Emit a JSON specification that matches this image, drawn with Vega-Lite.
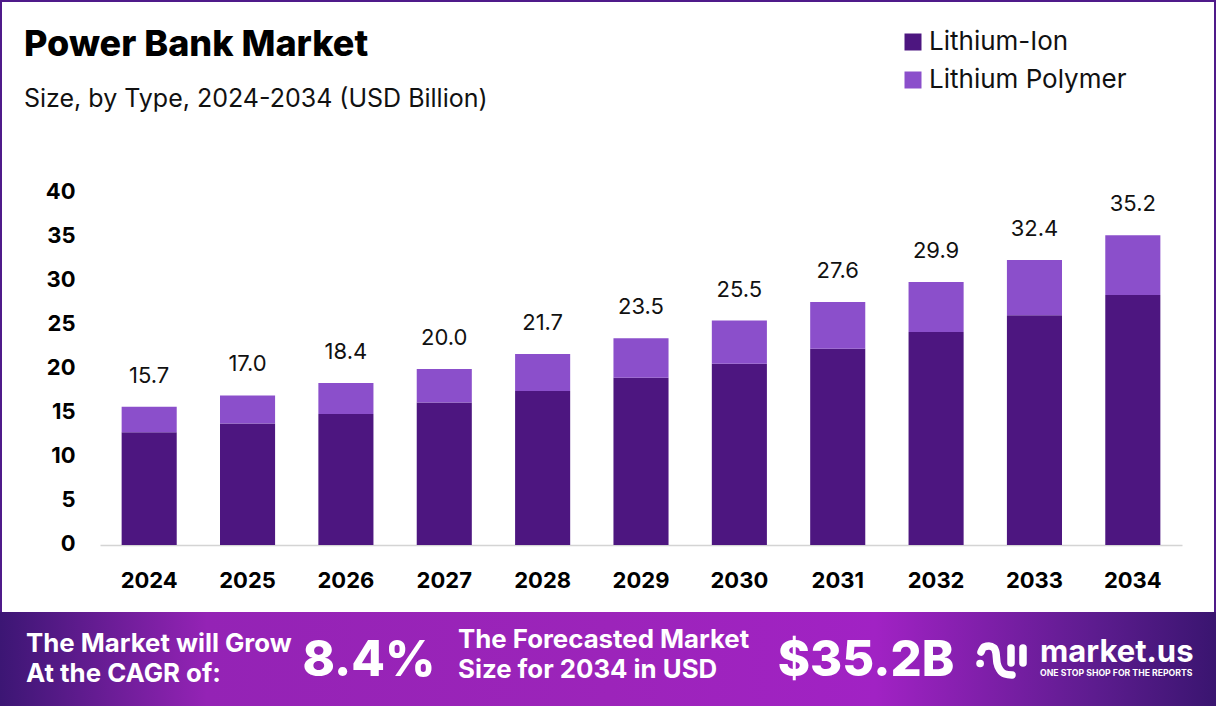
{
  "$schema": "https://vega.github.io/schema/vega-lite/v6.json",
  "autosize": {"type": "none"},
  "padding": {"left": 100, "top": 193, "right": 34, "bottom": 161},
  "width": 1082,
  "height": 352,
  "background": "white",
  "config": {"view": {"stroke": null}, "font": "Inter"},
  "title": {
    "text": "Power Bank Market",
    "subtitle": "Size, by Type, 2024-2034 (USD Billion)",
    "anchor": "start",
    "frame": "group",
    "dx": -76,
    "offset": -113,
    "font": "Inter",
    "fontSize": 36,
    "fontWeight": 800,
    "color": "#000000",
    "subtitleFont": "Inter",
    "subtitleFontSize": 25,
    "subtitleFontWeight": 400,
    "subtitleColor": "#111111",
    "subtitlePadding": 23
  },
  "datasets": {
    "bars": [
      {"year": "2024", "type": "Lithium-Ion", "seg": 1, "value": 12.8},
      {"year": "2024", "type": "Lithium Polymer", "seg": 2, "value": 2.9},
      {"year": "2025", "type": "Lithium-Ion", "seg": 1, "value": 13.8},
      {"year": "2025", "type": "Lithium Polymer", "seg": 2, "value": 3.2},
      {"year": "2026", "type": "Lithium-Ion", "seg": 1, "value": 14.9},
      {"year": "2026", "type": "Lithium Polymer", "seg": 2, "value": 3.5},
      {"year": "2027", "type": "Lithium-Ion", "seg": 1, "value": 16.2},
      {"year": "2027", "type": "Lithium Polymer", "seg": 2, "value": 3.8},
      {"year": "2028", "type": "Lithium-Ion", "seg": 1, "value": 17.5},
      {"year": "2028", "type": "Lithium Polymer", "seg": 2, "value": 4.2},
      {"year": "2029", "type": "Lithium-Ion", "seg": 1, "value": 19.0},
      {"year": "2029", "type": "Lithium Polymer", "seg": 2, "value": 4.5},
      {"year": "2030", "type": "Lithium-Ion", "seg": 1, "value": 20.6},
      {"year": "2030", "type": "Lithium Polymer", "seg": 2, "value": 4.9},
      {"year": "2031", "type": "Lithium-Ion", "seg": 1, "value": 22.3},
      {"year": "2031", "type": "Lithium Polymer", "seg": 2, "value": 5.3},
      {"year": "2032", "type": "Lithium-Ion", "seg": 1, "value": 24.2},
      {"year": "2032", "type": "Lithium Polymer", "seg": 2, "value": 5.7},
      {"year": "2033", "type": "Lithium-Ion", "seg": 1, "value": 26.1},
      {"year": "2033", "type": "Lithium Polymer", "seg": 2, "value": 6.3},
      {"year": "2034", "type": "Lithium-Ion", "seg": 1, "value": 28.4},
      {"year": "2034", "type": "Lithium Polymer", "seg": 2, "value": 6.8}
    ],
    "totals": [
      {"year": "2024", "total": 15.7},
      {"year": "2025", "total": 17.0},
      {"year": "2026", "total": 18.4},
      {"year": "2027", "total": 20.0},
      {"year": "2028", "total": 21.7},
      {"year": "2029", "total": 23.5},
      {"year": "2030", "total": 25.5},
      {"year": "2031", "total": 27.6},
      {"year": "2032", "total": 29.9},
      {"year": "2033", "total": 32.4},
      {"year": "2034", "total": 35.2}
    ],
    "logo": [
      {"part": "dot", "seq": 0, "lx": 5, "ly": 20.5},
      {"part": "dot", "seq": 1, "lx": 5.2, "ly": 20.5},
      {"part": "wave", "seq": 0, "lx": 6, "ly": 9},
      {"part": "wave", "seq": 1, "lx": 9, "ly": 4},
      {"part": "wave", "seq": 2, "lx": 14, "ly": 3},
      {"part": "wave", "seq": 3, "lx": 19, "ly": 5},
      {"part": "wave", "seq": 4, "lx": 21, "ly": 10},
      {"part": "wave", "seq": 5, "lx": 22, "ly": 20},
      {"part": "wave", "seq": 6, "lx": 25, "ly": 27},
      {"part": "wave", "seq": 7, "lx": 30, "ly": 31},
      {"part": "wave", "seq": 8, "lx": 37, "ly": 32},
      {"part": "barA", "seq": 0, "lx": 36, "ly": 5},
      {"part": "barA", "seq": 1, "lx": 36, "ly": 20},
      {"part": "barB", "seq": 0, "lx": 48, "ly": 5},
      {"part": "barB", "seq": 1, "lx": 48, "ly": 20}
    ]
  },
  "resolve": {"scale": {"x": "independent", "y": "independent"}},
  "layer": [
    {
      "data": {"values": [{"x0": 0, "x1": 1, "y0": 0, "y1": 1}]},
      "mark": {"type": "rect", "fill": null, "stroke": "#4f1a8a", "strokeWidth": 2},
      "encoding": {
        "x": {"field": "x0", "type": "quantitative", "axis": null, "scale": {"domain": [0, 1], "range": [-99, 1115], "nice": false, "zero": false}},
        "x2": {"field": "x1"},
        "y": {"field": "y0", "type": "quantitative", "axis": null, "scale": {"domain": [0, 1], "range": [-192, 425], "nice": false, "zero": false}},
        "y2": {"field": "y1"}
      }
    },
    {
      "data": {"values": [{"x0": 0, "x1": 1, "y0": 0, "y1": 1}]},
      "mark": {
        "type": "rect",
        "fill": {
          "x1": 0, "y1": 0, "x2": 1, "y2": 0,
          "gradient": "linear",
          "stops": [
            {"offset": 0, "color": "#3c1674"},
            {"offset": 0.17, "color": "#9423b5"},
            {"offset": 0.5, "color": "#9c24ba"},
            {"offset": 0.72, "color": "#a122c4"},
            {"offset": 0.9, "color": "#5d1c8f"},
            {"offset": 1, "color": "#3a1570"}
          ]
        }
      },
      "encoding": {
        "x": {"field": "x0", "type": "quantitative", "axis": null, "scale": {"domain": [0, 1], "range": [-100, 1116], "nice": false, "zero": false}},
        "x2": {"field": "x1"},
        "y": {"field": "y0", "type": "quantitative", "axis": null, "scale": {"domain": [0, 1], "range": [419, 513], "nice": false, "zero": false}},
        "y2": {"field": "y1"}
      }
    },
    {
      "layer": [
        {
          "data": {"name": "bars"},
          "mark": {"type": "bar"},
          "encoding": {
            "x": {
              "field": "year",
              "type": "nominal",
              "title": null,
              "scale": {"paddingInner": 0.44, "paddingOuter": 0.22},
              "axis": {
                "labelAngle": 0,
                "labelFont": "Inter",
                "labelFontSize": 22,
                "labelFontWeight": 700,
                "labelColor": "#000000",
                "labelPadding": 25,
                "ticks": false,
                "domainColor": "#d4d4d4",
                "domainWidth": 1.5,
                "grid": false
              }
            },
            "y": {
              "field": "value",
              "type": "quantitative",
              "stack": "zero",
              "title": null,
              "scale": {"domain": [0, 40], "nice": false},
              "axis": {
                "values": [0, 5, 10, 15, 20, 25, 30, 35, 40],
                "labelFont": "Inter",
                "labelFontSize": 22,
                "labelFontWeight": 700,
                "labelColor": "#000000",
                "labelPadding": 25,
                "labelOffset": -2,
                "ticks": false,
                "domain": false,
                "grid": false
              }
            },
            "order": {"field": "seg", "type": "ordinal"},
            "color": {
              "field": "type",
              "type": "nominal",
              "scale": {"domain": ["Lithium-Ion", "Lithium Polymer"], "range": ["#4d1680", "#8b4fcb"]},
              "legend": {
                "title": null,
                "orient": "none",
                "legendX": 800,
                "legendY": -164,
                "symbolType": "square",
                "symbolSize": 289,
                "symbolStrokeWidth": 0,
                "labelFont": "Inter",
                "labelFontSize": 26,
                "labelColor": "#111111",
                "labelOffset": 3,
                "rowPadding": 12,
                "labelLimit": 300
              }
            }
          }
        },
        {
          "data": {"name": "totals"},
          "mark": {"type": "text", "font": "Inter", "fontSize": 22, "color": "#111111", "baseline": "middle", "dy": -31},
          "encoding": {
            "x": {"field": "year", "type": "nominal"},
            "y": {"field": "total", "type": "quantitative"},
            "text": {"field": "total", "type": "quantitative", "format": ".1f"}
          }
        }
      ]
    },
    {
      "data": {"values": [
        {"col": 0, "line": 1, "label": "The Market will Grow"},
        {"col": 0, "line": 3, "label": "At the CAGR of:"},
        {"col": 1, "line": 0, "label": "The Forecasted Market"},
        {"col": 1, "line": 2, "label": "Size for 2034 in USD"}
      ]},
      "mark": {"type": "text", "font": "Inter", "fontSize": 25.8, "fontWeight": 700, "color": "white", "align": "left", "baseline": "middle"},
      "encoding": {
        "x": {"field": "col", "type": "quantitative", "axis": null, "scale": {"domain": [0, 1], "range": [-74, 358], "nice": false, "zero": false}},
        "y": {"field": "line", "type": "quantitative", "axis": null, "scale": {"domain": [0, 1, 2, 3], "range": [447, 451, 477, 481], "nice": false, "zero": false}},
        "text": {"field": "label"}
      }
    },
    {
      "data": {"values": [
        {"col": 0, "label": "8.4%"},
        {"col": 1, "label": "$35.2B"}
      ]},
      "mark": {"type": "text", "font": "Inter", "fontSize": 49, "fontWeight": 800, "color": "white", "align": "center", "baseline": "middle"},
      "encoding": {
        "x": {"field": "col", "type": "quantitative", "axis": null, "scale": {"domain": [0, 1], "range": [269, 766], "nice": false, "zero": false}},
        "y": {"datum": 0, "type": "quantitative", "axis": null, "scale": {"domain": [0, 1], "range": [468, 568], "nice": false, "zero": false}},
        "text": {"field": "label"}
      }
    },
    {
      "data": {"name": "logo"},
      "mark": {"type": "line", "color": "white", "strokeWidth": 7.5, "strokeCap": "round", "strokeJoin": "round", "interpolate": "monotone"},
      "encoding": {
        "x": {"field": "lx", "type": "quantitative", "axis": null, "scale": {"domain": [0, 60], "range": [875, 935], "nice": false, "zero": false}},
        "y": {"field": "ly", "type": "quantitative", "axis": null, "scale": {"domain": [0, 40], "range": [450, 490], "nice": false, "zero": false}},
        "detail": {"field": "part"},
        "order": {"field": "seq", "type": "quantitative"}
      }
    },
    {
      "data": {"values": [{"label": "market.us"}]},
      "mark": {"type": "text", "font": "Inter", "fontSize": 31, "fontWeight": 700, "color": "white", "align": "left", "baseline": "middle"},
      "encoding": {
        "x": {"datum": 0, "type": "quantitative", "axis": null, "scale": {"domain": [0, 1], "range": [940, 1100], "nice": false, "zero": false}},
        "y": {"datum": 0, "type": "quantitative", "axis": null, "scale": {"domain": [0, 1], "range": [460, 500], "nice": false, "zero": false}},
        "text": {"field": "label"}
      }
    },
    {
      "data": {"values": [{"label": "ONE STOP SHOP FOR THE REPORTS"}]},
      "mark": {"type": "text", "font": "Inter", "fontSize": 8.7, "fontWeight": 700, "color": "white", "align": "left", "baseline": "middle"},
      "encoding": {
        "x": {"datum": 0, "type": "quantitative", "axis": null, "scale": {"domain": [0, 1], "range": [940, 1100], "nice": false, "zero": false}},
        "y": {"datum": 0, "type": "quantitative", "axis": null, "scale": {"domain": [0, 1], "range": [480, 500], "nice": false, "zero": false}},
        "text": {"field": "label"}
      }
    }
  ]
}
